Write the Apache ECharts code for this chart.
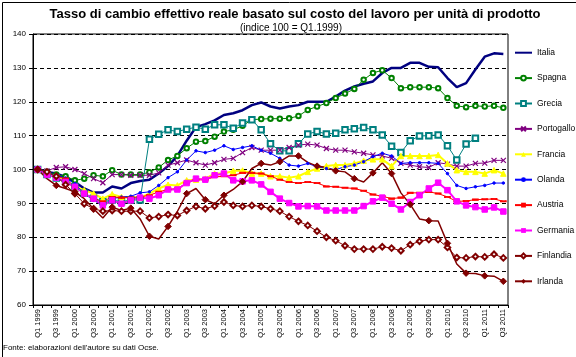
<!DOCTYPE html>
<html><head><meta charset="utf-8">
<script src="https://cdn.jsdelivr.net/npm/echarts@6/dist/echarts.min.js"></script>
<style>html,body{margin:0;padding:0;background:#fff}#c{width:576px;height:357px}</style>
</head><body><div id="c"></div>
<script>
const categories = ["Q1 1999","Q2 1999","Q3 1999","Q4 1999","Q1 2000","Q2 2000","Q3 2000","Q4 2000","Q1 2001","Q2 2001","Q3 2001","Q4 2001","Q1 2002","Q2 2002","Q3 2002","Q4 2002","Q1 2003","Q2 2003","Q3 2003","Q4 2003","Q1 2004","Q2 2004","Q3 2004","Q4 2004","Q1 2005","Q2 2005","Q3 2005","Q4 2005","Q1 2006","Q2 2006","Q3 2006","Q4 2006","Q1 2007","Q2 2007","Q3 2007","Q4 2007","Q1 2008","Q2 2008","Q3 2008","Q4 2008","Q1 2009","Q2 2009","Q3 2009","Q4 2009","Q1 2010","Q2 2010","Q3 2010","Q4 2010","Q1 2011","Q2 2011","Q3 2011"];
const italia = [100,99.3,98.8,97.8,96.3,94.4,93.2,93.2,95,94.4,96,96.6,97,98.8,101,104,108.5,112.5,113.4,114.5,116.1,116.6,117.5,119,119.8,118.6,118,118.6,119,120,120,120,121.5,123.3,124.5,125.3,126,128.5,130,130,131.5,131.5,130.3,130.2,127,124.3,125.5,129.5,133.3,134.3,134.1];
const spagna = [100,99.3,98.5,98,96.8,97.3,98.3,98,99.8,98.5,98.5,98.5,99.2,100.6,102.8,104,106.3,108.2,108.4,109.7,111.2,111.7,112.9,114.7,114.9,115,115,115.1,115.8,117.6,118.6,119.6,121.1,122.4,123.8,126.5,128.5,129.3,127,124,124.3,124.3,124.3,124,121.1,118.8,118.4,118.8,118.6,118.8,118.2];
const grecia = [100,98.5,97.5,96.5,95,93,91.5,90.5,91,90.5,91,91,108.9,110.4,111.7,111.2,111.9,112.5,111.9,113.2,113.2,112.2,113.7,114.7,111.7,107.6,105.5,105.5,107.6,110.5,111.2,110.5,110.7,111.7,112,112.4,111.7,110.2,106.9,105,108.5,109.9,110,110.2,107,102.8,107.5,109.2,null,null,null];
const portogallo = [100,99.6,100.6,100.8,100,98.8,97.3,96.1,98.5,98.5,98.3,98.3,98.3,99,101.3,102,102.8,102,101.3,102,103,103.3,105,106.5,105.7,105.7,105.7,106.5,107.2,107.5,107.2,106.2,105.7,105.7,105.2,104.8,104.3,104,103.3,101.8,101.3,100.8,100.6,102,101.6,101,101,101.8,101.9,102.7,102.7];
const francia = [100,98.8,98,96.5,94.9,93.9,92.9,91.4,92.7,91.9,91.7,91.7,92.9,94.4,95.5,95.3,96.8,97,97.3,98.8,98.8,99.6,99.7,98.8,98.8,98,98,97.6,98,99.3,100.3,101,101.3,101.3,101.8,102.6,103,103,101,104,104,104,104,104.3,101.8,99.8,99.3,99.3,98.8,99.8,98.8];
const olanda = [100,99,98.3,97.5,95.8,92.9,90.9,89.4,91.4,91.9,92.1,93.1,93.4,95.3,97.6,99.3,102.8,105.5,105,105.7,107,105.9,106.5,107,105.7,104.8,103.3,101.3,101,101.8,100.8,100.3,100,100.8,101.3,102.3,103.8,104.8,104,101.8,102,102,102,101.8,98.8,95.3,94.4,94.9,95.3,96,96];
const austria = [100,98.8,98,97.3,94.9,92.9,91.4,90.6,91.9,91.7,91.7,91.9,92.4,93.4,94.1,94.4,96,97,97,97.8,98,98.3,99,99,98.8,98,97,96.3,96,96.3,96,95,94.9,94.6,94.4,93.7,92.6,92.1,91.4,91.7,93.1,93.1,93.4,92.9,91.9,90.6,90.7,91.1,91.2,91.3,90.6];
const germania = [100,98.5,97.6,96.3,94.9,92.9,91.4,89.4,90.9,89.9,90.9,91.7,91.4,92.4,94.1,94.1,96,97.3,97,98.3,98.8,96.8,96.5,96.8,95.6,93.4,91.4,90.1,89.1,89.2,89.1,87.9,87.9,87.9,87.9,89.2,90.6,91.7,89.9,88.2,90.4,92.4,94.4,96.1,93.9,90.6,89.4,88.9,88.2,88.8,87.6];
const finlandia = [100,99.3,98,95.5,92.9,89.9,88.4,87.7,87.9,87.7,87.7,87.7,85.7,86.1,86.7,86.4,87.9,89.1,88.4,89.2,90.4,89.4,89.1,89.4,89.1,88.4,87.7,86.1,84.7,83.5,81.8,80,79,77.5,76.5,76.5,76.5,77.2,76.8,76,77.8,78.8,79.3,79.3,77,74,73.9,74.3,74.2,75,73.9];
const irlanda = [100,97.3,95.3,94.4,93.4,91.4,88.4,85.7,88.9,87.9,88.6,85.4,80.3,79.5,83.2,87.6,92.9,94.4,91.1,89.9,92.4,94.1,96.4,100.3,101.8,101.3,102.3,104,104,102.1,101,100.6,99.6,99.3,97.3,96.3,99,102,98.8,93.1,89.7,85.4,84.9,84.8,78.2,72.1,69.4,69.3,68.6,68.5,67];
const yTicks = {min: 60, max: 140, step: 10};
const titleText = "Tasso di cambio effettivo reale basato sul costo del lavoro per unità di prodotto";
const subtitleText = "(indice 100 = Q1.1999)";
const sourceText = "Fonte: elaborazioni dell'autore su dati Ocse.";

const FONT = "'Liberation Sans', Arial, sans-serif";
function mk(name, data, color, width, symbol, size, extra) {
  return {
    name, type: 'line', data, symbol, symbolSize: size, showSymbol: symbol !== 'none',
    lineStyle: {color, width}, itemStyle: Object.assign({color, borderColor: color}, extra || {}),
    connectNulls: false
  };
}
const series = [
  mk('Italia', italia, '#000080', 2.5, 'none', 0),
  mk('Spagna', spagna, '#008000', 1, 'emptyCircle', 4.5, {borderWidth: 1}),
  mk('Grecia', grecia, '#008080', 1, 'emptyRect', 5.5, {borderWidth: 1}),
  mk('Portogallo', portogallo, '#800080', 1, 'path://M0,0L10,10M10,0L0,10', 5, {borderWidth: 1.2}),
  mk('Francia', francia, '#FFFF00', 2, 'triangle', 5.5),
  mk('Olanda', olanda, '#0000FF', 1, 'circle', 2.5),
  mk('Austria', austria, '#FF0000', 1, 'rect', [5, 1.5]),
  mk('Germania', germania, '#FF00FF', 2, 'rect', 5.5),
  mk('Finlandia', finlandia, '#800000', 1, 'emptyDiamond', 5.5, {borderWidth: 1}),
  mk('Irlanda', irlanda, '#800000', 1.5, 'diamond', 6.5)
];
const legendData = series.map(s => s.name === 'Italia' ? {name: s.name, itemStyle: {opacity: 0}} : {name: s.name});

const chart = echarts.init(document.getElementById('c'), null, {renderer: 'canvas'});
chart.setOption({
  animation: false,
  backgroundColor: '#fff',
  textStyle: {fontFamily: FONT},
  title: [
    {text: titleText, left: 290, top: 3, textAlign: 'center',
     textStyle: {fontSize: 13, fontWeight: 'bold', color: '#000', fontFamily: FONT}},
    {text: subtitleText, left: 286, top: 18, textAlign: 'center',
     textStyle: {fontSize: 10, fontWeight: 'normal', color: '#000', fontFamily: FONT}}
  ],
  legend: {
    orient: 'vertical', left: 514, top: 46.7, padding: 0,
    itemWidth: 17, itemHeight: 6, itemGap: 13.4,
    textStyle: {fontSize: 8.5, lineHeight: 12, height: 12, color: '#000', fontFamily: FONT},
    data: legendData
  },
  grid: {left: 33, right: 68, top: 34, bottom: 52, show: true, borderColor: '#000', borderWidth: 1, containLabel: false},
  xAxis: {
    type: 'category', data: categories, boundaryGap: true,
    axisLine: {lineStyle: {color: '#000', width: 1}},
    axisTick: {show: true, interval: 0, length: 3, lineStyle: {color: '#000'}},
    axisLabel: {interval: 1, rotate: 90, fontSize: 7.5, color: '#000', margin: 4, fontFamily: FONT},
    splitLine: {show: false}
  },
  yAxis: {
    type: 'value', min: yTicks.min, max: yTicks.max, interval: yTicks.step,
    axisLine: {show: true, lineStyle: {color: '#000', width: 1}},
    axisTick: {show: true, length: 4, lineStyle: {color: '#000'}},
    axisLabel: {fontSize: 8, color: '#000', margin: 7, fontFamily: FONT},
    splitLine: {show: true, lineStyle: {color: '#000', type: [4, 3], width: 1}}
  },
  graphic: [
    {type: 'rect', left: 0, top: 0, shape: {x: 0.5, y: 0.5, width: 575, height: 356}, style: {fill: 'none', stroke: '#000', lineWidth: 1}, silent: true},
    {type: 'text', left: 3, top: 344, style: {text: sourceText, fontSize: 8, fill: '#000', fontFamily: FONT}}
  ],
  series
});
</script></body></html>
